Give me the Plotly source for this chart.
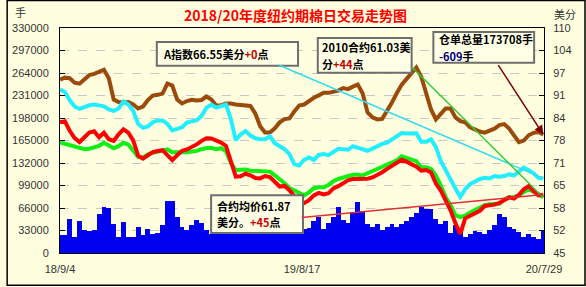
import pandas as pd
import plotly.graph_objects as go

# ---------------- data ----------------
dates = pd.date_range("2018-09-04", periods=100, freq="7D")

x_tick_dates = ["2018-09-04", "2019-08-17", "2020-07-29"]
x_tick_text = ["18/9/4", "19/8/17", "20/7/29"]

left_ticks = list(range(0, 330001, 33000))
right_ticks = [45, 51.5, 58, 64.5, 71, 77.5, 84, 90.5, 97, 103.5, 110]
right_tick_text = ["45", "52", "58", "65", "71", "78", "84", "91", "97", "104", "110"]

# 成交量 (手) - blue bars, left axis
volume = [25900, 25900, 50300, 24000, 47400, 33200, 32800, 34200, 57600, 67300,
          66300, 43000, 24000, 45500, 24000, 24000, 38600, 27000, 35700, 28400,
          29900, 41500, 76500, 76500, 53200, 38600, 33200, 41500, 47800, 44400,
          33200, 28400, 41500, 35700, 44400, 32800, 47400, 38600, 29900, 41500,
          35700, 47400, 38600, 32800, 41500, 35700, 29900, 33200, 38200, 43000,
          35700, 37200, 47400, 53200, 35700, 44400, 52700, 67800, 47800, 44400,
          60500, 75000, 61900, 43000, 38600, 43000, 33200, 38200, 43000, 38200,
          43000, 47400, 53200, 59000, 67300, 64800, 64800, 50300, 43000, 47400,
          29900, 41500, 32800, 24000, 28400, 32800, 31300, 28400, 33200, 41500,
          57600, 52700, 38200, 35700, 31300, 24000, 28400, 24000, 21100, 32800]

# 仓单总量 (手) - brown, left axis
receipts = [254200, 257200, 256400, 249900, 248400, 254200, 260800, 262600, 265200, 268800,
            256400, 225100, 221500, 220700, 221500, 217800, 212000, 214900, 224400, 230900,
            232000, 233800, 248400, 245500, 225100, 219300, 222900, 224700, 223600, 224400,
            229500, 225100, 216400, 216400, 219300, 219300, 217800, 217100, 216400, 215600,
            204700, 185800, 176600, 176600, 182900, 191600, 196400, 197400, 207600, 216400,
            217800, 223600, 227600, 231200, 234900, 234900, 236000, 238200, 242000, 240400,
            244000, 247000, 233800, 206200, 198900, 196000, 196700, 207600, 220700, 234600,
            247000, 255300, 264500, 272000, 258600, 236800, 210500, 196000, 204700, 212000,
            212000, 198900, 193500, 191600, 184300, 180700, 178200, 176600, 179200, 182400,
            187700, 189100, 182400, 171900, 162500, 164900, 172700, 176300, 177600, 173708]

# A指数 (美分) - cyan, right axis
a_index = [92.21, 91.49, 89.11, 87.33, 86.62, 87.19, 87.68, 87.91, 87.76, 87.39,
           86.47, 86.04, 86.76, 88.77, 87.91, 86.04, 82.31, 81.16, 81.59, 82.74,
           83.31, 83.31, 82.31, 80.44, 80.88, 81.36, 82.68, 83.03, 83.37, 84.61,
           86.99, 87.85, 86.99, 87.42, 87.91, 83.69, 77.57, 79.24, 80.21, 78.92,
           78.15, 77.86, 77.86, 78.72, 76.71, 75.85, 74.99, 73.56, 70.69, 70.26,
           71.92, 72.58, 71.83, 73.33, 73.56, 73.27, 74.04, 75.11, 74.99, 74.82,
           75.85, 75.42, 74.91, 74.53, 75.16, 75.85, 76.51, 76.86, 77.72, 78.67,
           79.64, 79.50, 79.47, 79.58, 77.14, 77.17, 77.86, 75.57, 71.63, 68.76,
           65.95, 63.60, 61.22, 63.43, 64.89, 65.61, 66.38, 66.75, 66.53, 67.24,
           67.04, 67.24, 67.76, 67.39, 68.51, 69.65, 68.91, 68.02, 66.73, 66.55]

# 2010合约 (美分) - green, right axis
contract = [76.91, 76.51, 76.14, 75.85, 75.42, 74.99, 75.14, 75.57, 75.97, 76.86,
            76.00, 75.28, 75.85, 76.83, 76.31, 74.62, 72.75, 72.61, 73.53, 73.96,
            74.30, 74.56, 74.91, 74.13, 74.04, 74.04, 74.13, 74.33, 74.50, 74.99,
            75.34, 75.36, 74.99, 75.28, 74.42, 70.97, 68.91, 69.08, 69.14, 68.79,
            68.76, 68.76, 68.76, 68.51, 67.44, 66.38, 65.15, 63.80, 63.11, 62.65,
            61.65, 62.51, 63.71, 64.00, 64.00, 64.66, 65.72, 66.38, 66.84, 67.13,
            67.59, 67.62, 67.41, 68.05, 68.68, 69.31, 69.74, 70.26, 71.12, 71.75,
            72.93, 72.49, 71.89, 71.55, 69.74, 69.74, 69.25, 67.39, 64.52, 61.13,
            58.78, 55.93, 55.39, 55.82, 56.68, 57.40, 58.17, 58.80, 59.09, 59.21,
            59.21, 60.44, 61.13, 61.19, 61.59, 62.65, 63.37, 62.74, 62.08, 61.03]

# 合约均价 (美分) - red, right axis
avg_price = [82.74, 83.03, 80.30, 78.21, 77.06, 78.44, 79.81, 80.16, 78.44, 79.73,
             77.86, 77.37, 79.30, 80.73, 79.78, 77.49, 73.13, 72.27, 73.27, 74.13,
             74.47, 74.70, 73.27, 71.83, 73.27, 74.53, 74.91, 75.57, 76.37, 77.40,
             78.15, 78.09, 77.57, 76.91, 75.94, 71.72, 67.04, 67.19, 67.90, 67.44,
             66.67, 66.55, 67.24, 66.93, 65.61, 64.20, 64.37, 63.14, 61.39, 60.50,
             59.41, 60.24, 61.65, 62.36, 61.90, 62.25, 63.66, 64.32, 65.23, 65.98,
             66.38, 66.38, 66.38, 66.47, 66.84, 67.50, 68.33, 69.31, 70.11, 70.89,
             71.92, 71.38, 70.80, 69.94, 68.79, 68.99, 68.25, 65.06, 63.02, 60.15,
             57.34, 53.61, 50.50, 55.02, 55.82, 56.51, 57.20, 58.58, 58.72, 58.98,
             59.46, 60.24, 61.07, 60.70, 61.82, 63.40, 64.32, 62.88, 61.62, 61.87]

# ---------------- style ----------------
BG = "#FFFFE0"
W, H = 586, 287
ML, MR, MT, MB = 54, 42, 28, 33
PW, PH = W - ML - MR, H - MT - MB
CJK = "Noto Sans CJK SC"
TICKFONT = dict(family="Liberation Sans", size=11, color="#333333")

fig = go.Figure()
fig.add_trace(go.Bar(x=dates, y=volume, yaxis="y", marker=dict(color="#0000F0", line=dict(width=0)),
                     width=7 * 86400000))
fig.add_trace(go.Scatter(x=dates, y=receipts, yaxis="y", mode="lines",
                         line=dict(color="#9C4A0C", width=4)))
fig.add_trace(go.Scatter(x=dates, y=a_index, yaxis="y2", mode="lines",
                         line=dict(color="#22EEFF", width=4)))
fig.add_trace(go.Scatter(x=dates, y=contract, yaxis="y2", mode="lines",
                         line=dict(color="#11EE11", width=4)))
fig.add_trace(go.Scatter(x=dates, y=avg_price, yaxis="y2", mode="lines",
                         line=dict(color="#FF0000", width=4)))

fig.update_layout(
    width=W, height=H,
    margin=dict(l=ML, r=MR, t=MT, b=MB, pad=0),
    paper_bgcolor=BG, plot_bgcolor=BG,
    showlegend=False, bargap=0, hovermode=False,
    xaxis=dict(type="date", range=["2018-09-04", "2020-07-29"],
               tickvals=x_tick_dates, ticktext=x_tick_text, ticks="",
               showline=True, linecolor="black", linewidth=1, mirror=True,
               showgrid=False, zeroline=False, tickfont=TICKFONT, ticklabelstandoff=6),
    yaxis=dict(range=[0, 330000], tickvals=left_ticks, tickformat="d",
               ticks="inside", ticklen=5, tickcolor="black",
               showline=True, linecolor="black", linewidth=1,
               showgrid=True, gridcolor="#C8C8C8", griddash="dash", gridwidth=1,
               zeroline=False, tickfont=TICKFONT, ticklabelstandoff=8),
    yaxis2=dict(range=[45, 110], tickvals=right_ticks, ticktext=right_tick_text,
                overlaying="y", side="right",
                ticks="inside", ticklen=5, tickcolor="black",
                showline=True, linecolor="black", linewidth=1,
                showgrid=False, zeroline=False, tickfont=TICKFONT, ticklabelstandoff=6),
)


def px(xp, yp):
    return (xp - ML) / PW, (H - MB - yp) / PH


annots = []
# titles
for text, xp, yp, size, color in [
    ("<b>2018/20年度纽约期棉日交易走势图</b>", 292, 15, 14, "#FF0000"),
    ("手", 14, 12, 11, "#333333"),
    ("美分", 565, 14, 11, "#333333"),
]:
    tx, ty = px(xp, yp)
    annots.append(dict(text=text, x=tx, y=ty, xref="paper", yref="paper", showarrow=False,
                       xanchor="center", yanchor="middle",
                       font=dict(family=CJK, size=size, color=color)))

BOXFONT = dict(family=CJK, size=11, color="black")

# info boxes: (box x0, x1, y0, y1 in px), text lines with their left x / centre y
boxes = [
    ((152, 295, 42, 66), [('<b>A指数66.55美分<span style="color:#C00000">+0</span>点</b>', 156, 54)]),
    ((315, 410, 38, 73), [("<b>2010合约61.03美</b>", 317, 47.5),
                          ('<b>分<span style="color:#C00000">+44</span>点</b>', 317, 64)]),
    ((432, 534, 32, 63), [("<b>仓单总量173708手</b>", 436, 39.5),
                          ('<b><span style="color:#000080">-609</span>手</b>', 436, 56)]),
    ((207, 300, 196, 234), [("<b>合约均价61.87</b>", 211, 206.5),
                            ('<b>美分。<span style="color:#D00000">+45</span>点</b>', 211, 223)]),
]
for (bx0, bx1, by0, by1), lines in boxes:
    X0, Y0 = px(bx0, by1)
    X1, Y1 = px(bx1, by0)
    fig.add_shape(type="rect", xref="paper", yref="paper", x0=X0, y0=Y0, x1=X1, y1=Y1,
                  fillcolor="#FFFFE6", line=dict(color="#6E6E6E", width=2), layer="above")
    for text, lx, ly in lines:
        tx, ty = px(lx, ly)
        annots.append(dict(text=text, x=tx, y=ty, xref="paper", yref="paper", showarrow=False,
                           xanchor="left", yanchor="middle", font=BOXFONT))


def pointer(yval, yref, ax, ay, color, head=0):
    return dict(text="", x=dates[-1], y=yval, xref="x", yref=yref, showarrow=True,
                ax=ax, ay=ay, axref="pixel", ayref="pixel", arrowcolor=color, arrowwidth=1.5,
                arrowhead=head, arrowsize=1.2, standoff=0, startstandoff=0)


annots.append(pointer(a_index[-1], "y2", -266, -114, "#33DDEE"))
annots.append(pointer(contract[-1], "y2", -133, -132, "#33CC33"))
annots.append(pointer(avg_price[-1], "y2", -243, 23, "#E03030"))
annots.append(pointer(receipts[-1], "y", -46, -71, "#800000", head=2))

fig.update_layout(annotations=annots)

# outer black frame
fx0, fy0 = px(0.5, H - 0.5)
fx1, fy1 = px(W - 0.5, 0.5)
fig.add_shape(type="rect", xref="paper", yref="paper", x0=fx0, y0=fy0, x1=fx1, y1=fy1,
              line=dict(color="black", width=1.5), layer="above")

fig.write_html("out.html", config={"displayModeBar": False})
